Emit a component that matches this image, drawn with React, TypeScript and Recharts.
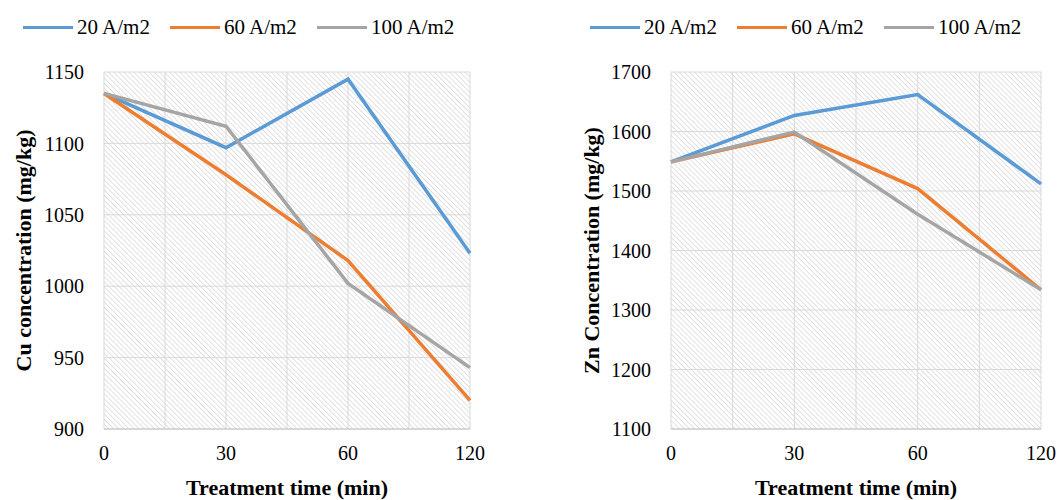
import React from 'react';
import {
  LineChart,
  Line,
  XAxis,
  YAxis,
  CartesianGrid,
} from 'recharts';

// ============================================================================
// Data
// ============================================================================

const TIMES = ['0', '30', '60', '120'];
const SERIES_NAMES = ['20 A/m2', '60 A/m2', '100 A/m2'];
const SERIES_COLORS = ['#5B9BD5', '#ED7D31', '#A5A5A5'];

const CU_20 = [1135, 1097, 1145, 1023];
const CU_60 = [1135, 1078, 1018, 920];
const CU_100 = [1135, 1112, 1002, 943];
const CU_TICKS = [900, 950, 1000, 1050, 1100, 1150];

const ZN_20 = [1549, 1627, 1662, 1512];
const ZN_60 = [1549, 1596, 1504, 1334];
const ZN_100 = [1549, 1599, 1461, 1334];
const ZN_TICKS = [1100, 1200, 1300, 1400, 1500, 1600, 1700];

// ============================================================================
// Constants
// ============================================================================

const FONT = '"Liberation Serif", "Times New Roman", serif';
const GRID = '#d9d9d9';
const CHART_W = 530;
const CHART_H = 500;

const buildRows = (a: number[], b: number[], c: number[]) =>
  TIMES.map((t, i) => ({ t, s0: a[i], s1: b[i], s2: c[i] }));

// ============================================================================
// Components
// ============================================================================

const LegendRow: React.FC<{ left: number }> = ({ left }) => (
  <div
    style={{
      position: 'absolute',
      top: 15,
      left,
      display: 'flex',
      alignItems: 'center',
      fontFamily: FONT,
      fontSize: 21,
      color: '#000',
      whiteSpace: 'nowrap',
    }}
  >
    {SERIES_NAMES.map((name, i) => (
      <div key={name} style={{ display: 'flex', alignItems: 'center', marginRight: 20 }}>
        <span
          style={{
            display: 'inline-block',
            width: 50,
            height: 3,
            background: SERIES_COLORS[i],
            marginRight: 4,
          }}
        />
        <span>{name}</span>
      </div>
    ))}
  </div>
);

interface PanelProps {
  id: string;
  rows: { t: string; s0: number; s1: number; s2: number }[];
  ticks: number[];
  yLabel: string;
  yAxisWidth: number;
  rightMargin: number;
  labelOffset: number;
  legendLeft: number;
}

const Panel: React.FC<PanelProps> = ({
  id,
  rows,
  ticks,
  yLabel,
  yAxisWidth,
  rightMargin,
  labelOffset,
  legendLeft,
}) => (
  <div style={{ position: 'relative', width: CHART_W, height: CHART_H }}>
    <LineChart
      width={CHART_W}
      height={CHART_H}
      data={rows}
      margin={{ top: 72, right: rightMargin, bottom: 0, left: 0 }}
    >
      <defs>
        <pattern
          id={id}
          width={3.6}
          height={3.6}
          patternUnits="userSpaceOnUse"
          patternTransform="rotate(-45)"
        >
          <rect width={3.6} height={3.6} fill="#ffffff" />
          <line x1={0} y1={0} x2={0} y2={3.6} stroke="#d2d2d2" strokeWidth={1.3} />
        </pattern>
      </defs>
      <CartesianGrid
        stroke={GRID}
        fill={`url(#${id})`}
        fillOpacity={1}
        verticalCoordinatesGenerator={({ offset }: any) =>
          [0, 1, 2, 3, 4, 5, 6].map((k) => offset.left + (offset.width * k) / 6)
        }
      />
      <XAxis
        dataKey="t"
        interval={0}
        height={71}
        tickLine={false}
        tickMargin={11}
        axisLine={{ stroke: '#c4c4c4' }}
        tick={{ fontSize: 20, fill: '#000', fontFamily: FONT }}
        label={{
          value: 'Treatment time (min)',
          position: 'insideBottom',
          offset: 5,
          style: { fontSize: 22, fontWeight: 'bold', fill: '#000', fontFamily: FONT },
        }}
      />
      <YAxis
        width={yAxisWidth}
        domain={[ticks[0], ticks[ticks.length - 1]]}
        ticks={ticks}
        interval={0}
        tickLine={false}
        axisLine={false}
        tickMargin={14}
        tick={{ fontSize: 20, fill: '#000', fontFamily: FONT }}
        label={{
          value: yLabel,
          angle: -90,
          position: 'insideLeft',
          offset: labelOffset,
          style: {
            textAnchor: 'middle',
            fontSize: 22,
            fontWeight: 'bold',
            fill: '#000',
            fontFamily: FONT,
          },
        }}
      />
      {['s0', 's1', 's2'].map((key, i) => (
        <Line
          key={key}
          dataKey={key}
          name={SERIES_NAMES[i]}
          stroke={SERIES_COLORS[i]}
          strokeWidth={3.5}
          dot={false}
          activeDot={false}
          type="linear"
          isAnimationActive={false}
        />
      ))}
    </LineChart>
    <LegendRow left={legendLeft} />
  </div>
);

export default function App() {
  return (
    <div
      style={{
        position: 'absolute',
        left: 0,
        top: 0,
        width: 1060,
        height: 500,
        display: 'flex',
        background: '#fff',
      }}
    >
      <Panel
        id="hatchCu"
        rows={buildRows(CU_20, CU_60, CU_100)}
        ticks={CU_TICKS}
        yLabel="Cu concentration (mg/kg)"
        yAxisWidth={104}
        rightMargin={60}
        labelOffset={23}
        legendLeft={23}
      />
      <Panel
        id="hatchZn"
        rows={buildRows(ZN_20, ZN_60, ZN_100)}
        ticks={ZN_TICKS}
        yLabel="Zn Concentration (mg/kg)"
        yAxisWidth={141}
        rightMargin={19}
        labelOffset={61}
        legendLeft={60}
      />
    </div>
  );
}
